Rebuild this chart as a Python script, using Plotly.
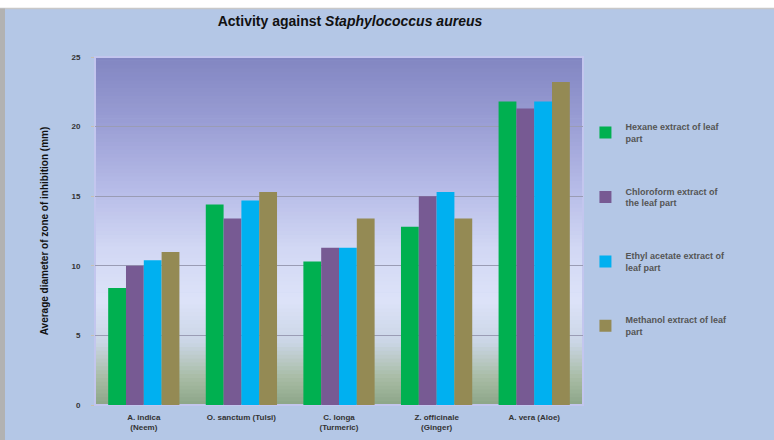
import plotly.graph_objects as go

# Extracts tested and mean inhibition zones (mm) against S. aureus
categories = [
    "A. indica<br>(Neem)",
    "O. sanctum (Tulsi)",
    "C. longa<br>(Turmeric)",
    "Z. officinale<br>(Ginger)",
    "A. vera (Aloe)",
]
series_names = [
    "Hexane extract of leaf<br>part",
    "Chloroform extract of<br>the leaf part",
    "Ethyl acetate extract of<br>leaf part",
    "Methanol extract of leaf<br>part",
]
hexane = [8.4, 14.4, 10.3, 12.8, 21.8]
chloroform = [10.0, 13.4, 11.3, 15.0, 21.3]
ethyl_acetate = [10.4, 14.7, 11.3, 15.3, 21.8]
methanol = [11.0, 15.3, 13.4, 13.4, 23.2]
y_ticks = [0, 5, 10, 15, 20, 25]

series_values = [hexane, chloroform, ethyl_acetate, methanol]
series_colors = ["#00b050", "#775a93", "#00b0f0", "#948a54"]

fig = go.Figure()
for i, (name, vals, col) in enumerate(zip(series_names, series_values, series_colors)):
    fig.add_trace(go.Bar(
        x=categories, y=vals, name=name,
        marker=dict(color=col, line=dict(width=0)),
        legendgroup=f"g{i}",
    ))


def _hex(c):
    c = c.lstrip("#")
    return tuple(int(c[k:k + 2], 16) for k in (0, 2, 4))


# vertical gradient of the plotting area (fraction from bottom, colour)
stops = [
    (0.00, "#8ca688"),
    (0.08, "#a9bda6"),
    (0.18, "#cbd6e6"),
    (0.30, "#dde3f9"),
    (0.45, "#d2d8f4"),
    (0.62, "#b7bce8"),
    (0.80, "#9ca0d6"),
    (1.00, "#8286c2"),
]


def grad_color(t):
    for (t0, c0), (t1, c1) in zip(stops[:-1], stops[1:]):
        if t0 <= t <= t1:
            a = (t - t0) / (t1 - t0)
            r0, g0, b0 = _hex(c0)
            r1, g1, b1 = _hex(c1)
            return "rgb(%d,%d,%d)" % (r0 + (r1 - r0) * a, g0 + (g1 - g0) * a, b0 + (b1 - b0) * a)
    return stops[-1][1]


shapes = []
n_strips = 90
for k in range(n_strips):
    y0 = k / n_strips
    y1 = (k + 1) / n_strips
    shapes.append(dict(
        type="rect", xref="paper", yref="paper", x0=0, x1=1, y0=y0, y1=y1 + 0.002,
        fillcolor=grad_color((y0 + y1) / 2), line=dict(width=0), layer="below",
    ))
# plot-area outline
shapes.append(dict(type="rect", xref="paper", yref="paper", x0=0, x1=1, y0=0, y1=1,
                   line=dict(color="#c3c6ee", width=2), layer="below"))
# white band and grey frame edge around the chart
shapes.append(dict(type="rect", xref="paper", yref="paper",
                   x0=-95 / 488, x1=679 / 488, y0=1 + 49 / 348, y1=1 + 57 / 348,
                   fillcolor="white", line=dict(width=0), layer="below"))
shapes.append(dict(type="line", xref="paper", yref="paper",
                   x0=-95 / 488, x1=679 / 488, y0=1 + 48.5 / 348, y1=1 + 48.5 / 348,
                   line=dict(color="#c8c8c8", width=1.5), layer="below"))
shapes.append(dict(type="rect", xref="paper", yref="paper",
                   x0=-95 / 488, x1=-90 / 488, y0=-35 / 348, y1=1 + 48.5 / 348,
                   fillcolor="#b2b2b2", line=dict(width=0), layer="below"))

fig.update_layout(
    width=774, height=440,
    margin=dict(l=95, r=191, t=57, b=35),
    paper_bgcolor="#b4c7e6",
    plot_bgcolor="rgba(0,0,0,0)",
    font=dict(family="Liberation Sans, Arial, sans-serif", color="#222222"),
    title=dict(
        text="Activity against <i>Staphylococcus aureus</i>",
        x=350 / 774, xanchor="center", y=1 - 21 / 440, yanchor="middle",
        font=dict(size=14, weight="bold", color="#111111"),
    ),
    barmode="group",
    bargap=0.27,
    bargroupgap=0,
    shapes=shapes,
    showlegend=True,
    legend=dict(
        x=1.005, xanchor="left", y=0.835, yanchor="top",
        bgcolor="rgba(0,0,0,0)",
        font=dict(size=9, color="#555555", weight="bold"),
        tracegroupgap=38,
        itemwidth=30,
    ),
    xaxis=dict(
        showgrid=False, showline=False, ticks="",
        automargin=False,
        ticklabelstandoff=6,
        tickfont=dict(size=8, color="#333333", weight="bold"),
    ),
    yaxis=dict(
        range=[0, 25], tickvals=y_ticks,
        automargin=False,
        showgrid=True, gridcolor="#9a9cb4", gridwidth=1,
        zeroline=False, showline=False,
        ticks="outside", ticklen=3, tickcolor="#c9c0b0",
        ticklabelstandoff=9,
        tickfont=dict(size=8, color="#333333", weight="bold"),
        title=dict(text="Average diameter of zone of inhibition (mm)",
                   font=dict(size=10, weight="bold", color="#111111"), standoff=20),
    ),
)

fig.write_html("out.html")
